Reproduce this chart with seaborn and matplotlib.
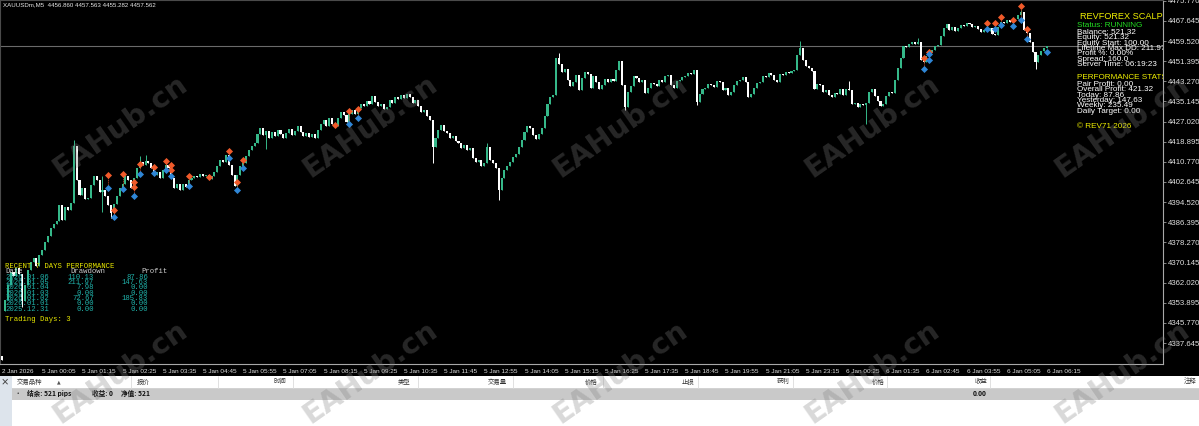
import numpy as np
import pandas as pd
import matplotlib
matplotlib.use("Agg")
import matplotlib.pyplot as plt
from matplotlib.patches import Rectangle
import seaborn as sns

# --- data (XAUUSDm M5, 2 Jan last bar + 5/6 Jan) ---
closes = [
    4331.0, 4355.0, 4361.1, 4366.3, 4364.7, 4367.9, 4365.5, 4354.6, 4361.1, 4367.1,  # 0
    4370.3, 4372.0, 4368.7, 4373.2, 4375.2, 4378.4, 4380.8, 4384.0, 4385.7, 4386.9,  # 10
    4393.3, 4387.3, 4392.5, 4391.3, 4394.2, 4417.2, 4403.4, 4397.4, 4400.2, 4395.8,  # 20
    4396.2, 4401.4, 4405.0, 4403.4, 4398.6, 4399.4, 4397.0, 4393.3, 4390.1, 4393.7,  # 30
    4397.0, 4400.2, 4401.8, 4405.0, 4403.4, 4400.2, 4404.2, 4408.3, 4410.7, 4409.5,  # 40
    4411.1, 4410.3, 4408.3, 4405.5, 4406.7, 4404.2, 4407.5, 4409.5, 4408.3, 4404.2,  # 50
    4400.2, 4401.8, 4399.4, 4401.8, 4400.6, 4403.4, 4404.2, 4405.0, 4404.6, 4405.9,  # 60
    4405.0, 4405.5, 4403.8, 4405.0, 4406.7, 4409.1, 4411.5, 4410.7, 4413.5, 4409.5,  # 70
    4405.5, 4401.0, 4405.5, 4409.1, 4410.3, 4413.1, 4415.5, 4417.2, 4418.4, 4422.0,  # 80
    4424.4, 4421.6, 4423.2, 4420.4, 4422.8, 4421.2, 4423.6, 4422.0, 4420.4, 4422.4,  # 90
    4424.0, 4421.6, 4423.2, 4425.2, 4422.8, 4421.2, 4422.4, 4420.8, 4422.0, 4420.4,  # 100
    4423.6, 4426.0, 4427.7, 4425.2, 4428.5, 4426.0, 4425.2, 4428.5, 4430.9, 4429.7,  # 110
    4426.9, 4430.1, 4431.7, 4430.1, 4432.5, 4434.1, 4433.3, 4435.3, 4434.1, 4437.3,  # 120
    4434.9, 4433.3, 4434.1, 4432.1, 4432.9, 4435.7, 4434.5, 4437.0, 4436.1, 4437.7,  # 130
    4436.5, 4438.1, 4437.0, 4434.5, 4435.7, 4433.3, 4430.9, 4431.7, 4429.3, 4427.7,  # 140
    4416.7, 4420.4, 4423.6, 4425.7, 4423.2, 4422.4, 4420.4, 4421.2, 4419.2, 4418.4,  # 150
    4416.3, 4417.6, 4415.5, 4416.3, 4412.3, 4410.7, 4411.5, 4409.1, 4410.3, 4416.7,  # 160
    4411.5, 4410.3, 4408.3, 4399.4, 4404.2, 4407.5, 4409.1, 4410.7, 4412.7, 4413.9,  # 170
    4416.7, 4419.6, 4422.8, 4425.2, 4424.4, 4421.6, 4420.0, 4422.0, 4424.4, 4429.3,  # 180
    4434.1, 4436.9, 4437.7, 4452.7, 4450.2, 4447.0, 4448.2, 4443.8, 4441.4, 4443.0,  # 190
    4445.8, 4439.8, 4444.6, 4447.0, 4446.2, 4440.6, 4445.4, 4443.0, 4440.2, 4441.8,  # 200
    4444.2, 4443.0, 4444.2, 4443.4, 4447.8, 4451.5, 4441.8, 4432.9, 4438.9, 4441.4,  # 210
    4445.4, 4444.6, 4443.0, 4443.8, 4438.5, 4440.6, 4442.6, 4442.2, 4441.4, 4443.8,  # 220
    4443.0, 4445.4, 4445.8, 4441.8, 4440.6, 4443.4, 4443.8, 4445.0, 4445.4, 4446.6,  # 230
    4446.2, 4447.8, 4434.9, 4438.1, 4440.2, 4440.6, 4442.2, 4441.8, 4441.0, 4443.4,  # 240
    4443.0, 4439.8, 4440.6, 4437.7, 4438.9, 4441.8, 4443.4, 4443.8, 4445.0, 4443.0,  # 250
    4436.9, 4438.1, 4440.6, 4442.6, 4443.0, 4445.4, 4445.0, 4446.6, 4445.8, 4443.8,  # 260
    4443.0, 4446.2, 4445.8, 4447.0, 4446.6, 4447.4, 4447.8, 4454.0, 4456.7, 4451.9,  # 270
    4449.4, 4448.6, 4447.4, 4440.2, 4442.2, 4441.8, 4439.0, 4439.8, 4437.7, 4436.9,  # 280
    4438.5, 4438.1, 4440.2, 4437.7, 4440.2, 4439.8, 4434.1, 4434.5, 4432.9, 4434.1,  # 290
    4433.7, 4434.5, 4439.0, 4440.2, 4437.3, 4435.3, 4433.3, 4434.1, 4437.3, 4439.0,  # 300
    4438.5, 4443.8, 4448.6, 4452.7, 4457.5, 4457.1, 4458.3, 4459.1, 4458.3, 4459.1,  # 310
    4451.9, 4451.1, 4453.5, 4455.1, 4455.9, 4457.5, 4457.9, 4461.5, 4464.8, 4466.4,  # 320
    4464.0, 4465.2, 4463.6, 4464.8, 4466.0, 4465.6, 4466.8, 4466.4, 4465.2, 4465.6,  # 330
    4464.4, 4463.2, 4464.0, 4463.6, 4464.8, 4462.4, 4462.0, 4465.2, 4467.2, 4466.8,  # 340
    4468.0, 4467.2, 4467.6, 4468.4, 4470.0, 4471.2, 4464.0, 4462.8, 4459.1, 4455.1,  # 350
    4451.1, 4453.9, 4455.5, 4456.86, 4457.562,                                          # 360
]
# bars whose open is not the previous close (weekend gap)
gap_bars = [0, 1]
gap_opens = [4332.3, 4350.6]

# visible long wicks
high_bars = [25, 35, 48, 50, 169, 194, 278, 295, 319, 355]
high_vals = [4419.6, 4405.0, 4413.0, 4413.5, 4418.4, 4454.7, 4459.5, 4443.4, 4460.7, 4472.0]
low_bars = [7, 35, 38, 92, 150, 173, 217, 242, 301, 360]
low_vals = [4352.0, 4390.5, 4388.0, 4416.0, 4410.3, 4395.4, 4431.5, 4433.7, 4426.0, 4448.2]

# trade arrows (red above, blue below)
trade_bar = [37, 39, 42, 46, 48, 53, 57, 59, 65, 79, 82, 84, 121, 124,
             321, 323, 343, 346, 348, 352, 355, 357]
trade_red = [4405.3, 4391.3, 4405.9, 4402.6, 4409.9, 4408.7, 4411.1, 4409.5, 4405.2, 4415.1,
             4402.6, 4411.5, 4431.3, 4431.9, 4452.7, 4455.2, 4466.6, 4466.9, 4469.1, 4468.0,
             4473.7, 4464.4]
trade_blue = [4400.2, 4388.5, 4399.8, 4397.0, 4405.7, 4406.1, 4407.5, 4405.2, 4401.2, 4412.3,
              4399.4, 4408.4, 4426.0, 4428.6, 4448.3, 4454.1, 4464.3, 4464.3, 4466.0, 4465.7,
              4468.2, 4460.5]
extra_red_bars = [46, 59, 72, 116]
extra_red = [4400.6, 4407.5, 4404.7, 4425.6]
extra_blue_bars = [323, 364]
extra_blue = [4451.7, 4455.0]

bid = 4457.562
price_ticks = [4337.645, 4345.770, 4353.895, 4362.020, 4370.145, 4378.270, 4386.395, 4394.520,
               4402.645, 4410.770, 4418.895, 4427.020, 4435.145, 4443.270, 4451.395, 4459.520,
               4467.645, 4475.770]
time_ticks = [0, 14, 28, 42, 56, 70, 84, 98, 112, 126, 140, 154, 168, 182, 196, 210, 224,
              238, 252, 266, 280, 294, 308, 322, 336, 350, 364]
time_labels = ["2 Jan 2026", "5 Jan 00:05", "5 Jan 01:15", "5 Jan 02:25", "5 Jan 03:35",
               "5 Jan 04:45", "5 Jan 05:55", "5 Jan 07:05", "5 Jan 08:15", "5 Jan 09:25",
               "5 Jan 10:35", "5 Jan 11:45", "5 Jan 12:55", "5 Jan 14:05", "5 Jan 15:15",
               "5 Jan 16:25", "5 Jan 17:35", "5 Jan 18:45", "5 Jan 19:55", "5 Jan 21:05",
               "5 Jan 23:15", "6 Jan 00:25", "6 Jan 01:35", "6 Jan 02:45", "6 Jan 03:55",
               "6 Jan 05:05", "6 Jan 06:15"]

info_lines = ["Balance: 521.32", "Equity: 521.32", "Equity Start: 100.00",
              "Lifetime Max DD: 211.97", "Profit %: 0.00%", "Spread: 160.0",
              "Server Time: 06:19:23"]
stats_lines = ["Pair Profit: 0.00", "Overall Profit: 421.32", "Today: 87.86",
               "Yesterday: 147.63", "Weekly: 235.49", "Daily Target: 0.00"]

perf_dates = ["2026.01.06", "2026.01.05", "2026.01.04", "2026.01.03", "2026.01.02",
              "2026.01.01", "2025.12.31"]
perf_dd = [110.13, 211.97, 7.98, 0.00, 72.67, 0.00, 0.00]
perf_profit = [87.86, 147.63, 0.00, 0.00, 185.83, 0.00, 0.00]

col_headers = ["报价", "时间", "类型", "交易量", "价格", "止损", "获利", "价格", "收益", "注释"]
col_right = [150, 286, 410, 507, 598, 694, 790, 885, 987, 1197]
col_seps = [131, 218, 293, 418, 513, 603, 698, 793, 887, 990]

# --- figure ---
W, H = 1199, 426
sns.set_style("dark")
plt.rcParams['font.family'] = ['Liberation Sans', 'Noto Sans CJK SC', 'DejaVu Sans']

fig = plt.figure(figsize=(W / 100, H / 100), dpi=100, facecolor="black")
ax = fig.add_axes([0, 62 / H, 1163 / W, 364 / H])
ax.set_facecolor("black")

n = len(closes)
x = np.arange(n)
opens = [closes[i - 1] if i > 0 else closes[0] for i in range(n)]
for b, o in zip(gap_bars, gap_opens):
    opens[b] = o
df = pd.DataFrame({"bar": x, "open": opens, "close": closes})
df["top"] = df[["open", "close"]].max(axis=1)
df["bot"] = df[["open", "close"]].min(axis=1)
df["high"] = df["top"]
df["low"] = df["bot"]
for b, v in zip(high_bars, high_vals):
    df.loc[b, "high"] = max(v, df.loc[b, "top"])
for b, v in zip(low_bars, low_vals):
    df.loc[b, "low"] = min(v, df.loc[b, "bot"])
up = df["close"] >= df["open"]
cols = np.where(up, "#35b889", "#ffffff")

ax.vlines(df["bar"], df["low"], df["high"], colors=cols, lw=0.7, zorder=2)
ax.bar(df["bar"], (df["top"] - df["bot"]).clip(lower=0.35), bottom=df["bot"],
       width=0.72, color=cols, linewidth=0, zorder=3)

ax.axhline(bid, color="#6a6a6a", lw=0.8, zorder=1)

# trades
ax.vlines(trade_bar, trade_blue, trade_red, colors="#c8502a", linestyles=(0, (1, 1)), lw=0.7, zorder=4)
sns.scatterplot(x=trade_bar + extra_red_bars, y=trade_red + extra_red, marker="D", s=13,
                color="#f05a2a", linewidth=0, ax=ax, zorder=5, legend=False)
sns.scatterplot(x=trade_bar + extra_blue_bars, y=trade_blue + extra_blue, marker="D", s=13,
                color="#2f86d6", linewidth=0, ax=ax, zorder=5, legend=False)

ax.set_xlim(-0.7, 404.4)
ax.set_ylim(4329.19, 4476.08)
ax.set_xlabel("")
ax.set_ylabel("")
ax.grid(False)

ax.yaxis.tick_right()
ax.set_yticks(price_ticks)
ax.set_yticklabels([f"{p:.3f}" for p in price_ticks], fontsize=5.6, color="#e0e0e0")
ax.set_xticks(time_ticks)
ax.set_xticklabels(time_labels, fontsize=4.6, color="#e0e0e0", ha="left")
ax.tick_params(axis="both", which="both", direction="out", length=2, width=0.6,
               color="#9a9a9a", pad=1.5)
for s in ["left", "top"]:
    ax.spines[s].set_color("#4a4a4a")
    ax.spines[s].set_linewidth(0.8)
for s in ["right", "bottom"]:
    ax.spines[s].set_color("#a8a8a8")
    ax.spines[s].set_linewidth(0.8)


def at(px, py, s, **kw):
    kw.setdefault("va", "center")
    kw.setdefault("ha", "left")
    ax.text(px / 1163, 1 - py / 364, s, transform=ax.transAxes, clip_on=True, zorder=6, **kw)


at(3, 5, "XAUUSDm,M5  4456.860 4457.563 4455.282 4457.562", fontsize=4.4, color="#e8e8e8")

# info panel (top right)
at(1080, 16.5, "REVFOREX SCALPER", fontsize=6.6, color="#f0f000")
at(1077, 25.3, "Status: RUNNING", fontsize=5.9, color="#22e022")
for i, s in enumerate(info_lines):
    at(1077, 32.7 + 5.27 * i, s, fontsize=5.9, color="#ffffff")
at(1077, 77.3, "PERFORMANCE STATS", fontsize=5.9, color="#f0f000")
for i, s in enumerate(stats_lines):
    at(1077, 84.7 + 5.27 * i, s, fontsize=5.9, color="#ffffff")
at(1077, 126, "© REV71 2026", fontsize=5.9, color="#f0f000")

# recent performance table (bottom left)
mono = "Liberation Mono"
at(5, 267, "RECENT 7 DAYS PERFORMANCE", fontsize=5.2, color="#e8e800", family=mono)
at(5, 271.5, "Date", fontsize=5.2, color="#cfcfcf", family=mono)
at(70, 271.5, "Drawdown", fontsize=5.2, color="#cfcfcf", family=mono)
at(141, 271.5, "Profit", fontsize=5.2, color="#cfcfcf", family=mono)
for i in range(len(perf_dates)):
    yy = 277.3 + 5.33 * i
    at(5, yy, perf_dates[i], fontsize=5.2, color="#20b2aa", family=mono)
    at(94, yy, f"{perf_dd[i]:.2f}", fontsize=5.2, color="#20b2aa", family=mono, ha="right")
    at(148, yy, f"{perf_profit[i]:.2f}", fontsize=5.2, color="#20b2aa", family=mono, ha="right")
at(5, 319.5, "Trading Days: 3", fontsize=5.2, color="#e8e800", family=mono)

# --- toolbox panel at the bottom ---
pax = fig.add_axes([0, 0, 1, 50 / H])
pax.set_xlim(0, W)
pax.set_ylim(426, 376)
pax.axis("off")
pax.add_patch(Rectangle((0, 376), W, 50, color="#ffffff", lw=0))
pax.add_patch(Rectangle((0, 388), W, 11.5, color="#c9c9c9", lw=0))
pax.add_patch(Rectangle((0, 376), 11.5, 50, color="#dde4ec", lw=0))
pax.plot([11.5, W], [387.6, 387.6], color="#d4d4d4", lw=0.6)
for sx in col_seps:
    pax.plot([sx, sx], [376, 387.5], color="#dcdcdc", lw=0.6)
cjk = ["Noto Sans CJK SC", "DejaVu Sans"]
pax.text(4.5, 381.5, "×", fontsize=6, fontweight="bold", color="#404040", ha="center", va="center", family=cjk)
pax.text(17, 381.5, "交易品种", fontsize=4.6, color="#333333", va="center", family=cjk)
pax.text(59, 381.5, "▲", fontsize=3.4, color="#555555", va="center", ha="center", family=["DejaVu Sans"])
for s, rx in zip(col_headers, col_right):
    if s == "报价":
        pax.text(137, 381.5, s, fontsize=4.6, color="#333333", va="center", ha="left", family=cjk)
    else:
        pax.text(rx, 381.5, s, fontsize=4.6, color="#333333", va="center", ha="right", family=cjk)
pax.text(18, 393.8, "•", fontsize=4.6, color="#222222", va="center", ha="center", family=cjk)
pax.text(27, 393.8, "结余: 521 pips", fontsize=4.8, fontweight="bold", color="#111111", va="center", family=cjk)
pax.text(92, 393.8, "收益: 0", fontsize=4.8, fontweight="bold", color="#111111", va="center", family=cjk)
pax.text(121, 393.8, "净值: 521", fontsize=4.8, fontweight="bold", color="#111111", va="center", family=cjk)
pax.text(987, 393.8, "0.00", fontsize=4.8, fontweight="bold", color="#111111", va="center", ha="right", family=cjk)

# watermark
for cy in [126, 372]:
    for cx in [120, 370, 620, 872, 1122]:
        fig.text(cx / W, 1 - cy / H, "EAHub.cn", rotation=35, rotation_mode="anchor",
                 ha="center", va="center", fontsize=21, fontweight="bold",
                 color="#808080", alpha=0.3, family="DejaVu Sans", zorder=10)

fig.savefig("out.png", dpi=100, facecolor="black")
